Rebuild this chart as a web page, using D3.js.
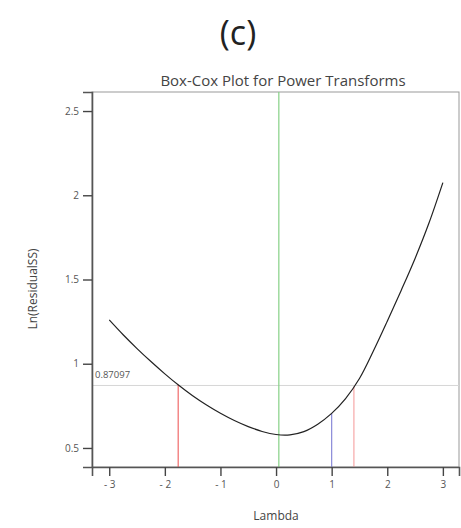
<!DOCTYPE html>
<html>
<head>
<meta charset="utf-8">
<script src="https://cdn.jsdelivr.net/npm/d3@7"></script>
<style>
  html, body { margin: 0; padding: 0; background: #fff; }
  svg { display: block; font-family: "Open Sans", "Noto Sans", sans-serif; }
</style>
</head>
<body>
<svg id="chart" width="461" height="528"></svg>
<script>
// Box-Cox profile: ln(residual SS) against lambda
const lambdas = [-3, -2.75, -2.5, -2.25, -2, -1.75, -1.5, -1.25, -1, -0.75, -0.5, -0.25,
                 0, 0.25, 0.5, 0.75, 1, 1.25, 1.5, 1.75, 2, 2.25, 2.5, 2.75, 3];
const lnResidualSS = [1.260, 1.172, 1.090, 1.013, 0.940, 0.872, 0.810, 0.755, 0.706, 0.663, 0.627, 0.598,
                      0.580, 0.578, 0.597, 0.641, 0.705, 0.793, 0.912, 1.075, 1.252, 1.435, 1.625, 1.835, 2.075];

const xTicks = [-3, -2, -1, 0, 1, 2, 3];
const yTicks = [0.5, 1, 1.5, 2, 2.5];

const ciThreshold = 0.87097;   // horizontal confidence cut-off
const bestLambda = 0.05;       // green: optimum
const currentLambda = 1;       // blue: current transform
const ciLow = -1.76;           // red: lower CI bound
const ciHigh = 1.40;           // red: upper CI bound

const svg = d3.select("#chart");
const plot = { left: 92, right: 459, top: 92, bottom: 467 };

const x = d3.scaleLinear().domain([-3.31, 3.29]).range([plot.left, plot.right]);
const y = d3.scaleLinear().domain([0.387, 2.613]).range([plot.bottom, plot.top]);

const curveAt = d3.scaleLinear().domain(lambdas).range(lnResidualSS);

// panel letter
svg.append("text").attr("x", 238).attr("y", 45).attr("text-anchor", "middle")
  .attr("font-size", 34).attr("fill", "#222").text("(c)");

// title
svg.append("text").attr("x", 283).attr("y", 86).attr("text-anchor", "middle")
  .attr("font-size", 15).attr("fill", "#444").text("Box-Cox Plot for Power Transforms");

// frame
svg.append("rect").attr("x", plot.left).attr("y", plot.top)
  .attr("width", plot.right - plot.left).attr("height", plot.bottom - plot.top)
  .attr("fill", "none").attr("stroke", "#999").attr("stroke-width", 1);

// threshold line
svg.append("line")
  .attr("x1", plot.left).attr("x2", plot.right)
  .attr("y1", y(ciThreshold)).attr("y2", y(ciThreshold))
  .attr("stroke", "#d6d6d6").attr("stroke-width", 1);
svg.append("text").attr("x", plot.left + 3).attr("y", y(ciThreshold) - 7)
  .attr("font-size", 9.5).attr("fill", "#555").text(ciThreshold.toString());

// optimum lambda (full height)
svg.append("line")
  .attr("x1", x(bestLambda)).attr("x2", x(bestLambda))
  .attr("y1", plot.top).attr("y2", plot.bottom)
  .attr("stroke", "#86d086").attr("stroke-width", 1.2);

// vertical drops from axis to curve
const drops = [
  { l: ciLow, color: "#f06a6a" },
  { l: currentLambda, color: "#8a8ad8" },
  { l: ciHigh, color: "#f7a8a8" }
];
svg.selectAll("line.drop").data(drops).enter().append("line")
  .attr("class", "drop")
  .attr("x1", d => x(d.l)).attr("x2", d => x(d.l))
  .attr("y1", plot.bottom).attr("y2", d => y(curveAt(d.l)))
  .attr("stroke", d => d.color).attr("stroke-width", 1.2);

// curve
const pts = lambdas.map((l, i) => [l, lnResidualSS[i]]);
svg.append("path").datum(pts)
  .attr("d", d3.line().x(d => x(d[0])).y(d => y(d[1])).curve(d3.curveCatmullRom))
  .attr("fill", "none").attr("stroke", "#222").attr("stroke-width", 1.2);

// axes
const xAxis = svg.append("g").attr("transform", `translate(0,${plot.bottom})`)
  .call(d3.axisBottom(x).tickValues(xTicks).tickSize(9).tickPadding(5)
    .tickFormat(d => d < 0 ? "- " + Math.abs(d) : d));
const yAxis = svg.append("g").attr("transform", `translate(${plot.left},0)`)
  .call(d3.axisLeft(y).tickValues(yTicks).tickSize(9).tickPadding(4)
    .tickFormat(d3.format("~g")));

[xAxis, yAxis].forEach(g => {
  g.select(".domain").attr("stroke", "#555").attr("stroke-width", 1.6);
  g.selectAll(".tick line").attr("stroke", "#444").attr("stroke-width", 1.4);
  g.selectAll(".tick text").attr("fill", "#555").attr("font-size", 10)
    .attr("font-family", "'Open Sans', 'Noto Sans', sans-serif");
});

// axis titles
svg.append("text").attr("x", x(0)).attr("y", 520).attr("text-anchor", "middle")
  .attr("font-size", 12).attr("fill", "#444").text("Lambda");
svg.append("text").attr("transform", "translate(37,289) rotate(-90)")
  .attr("text-anchor", "middle").attr("font-size", 12).attr("fill", "#444")
  .text("Ln(ResidualSS)");
</script>
</body>
</html>
